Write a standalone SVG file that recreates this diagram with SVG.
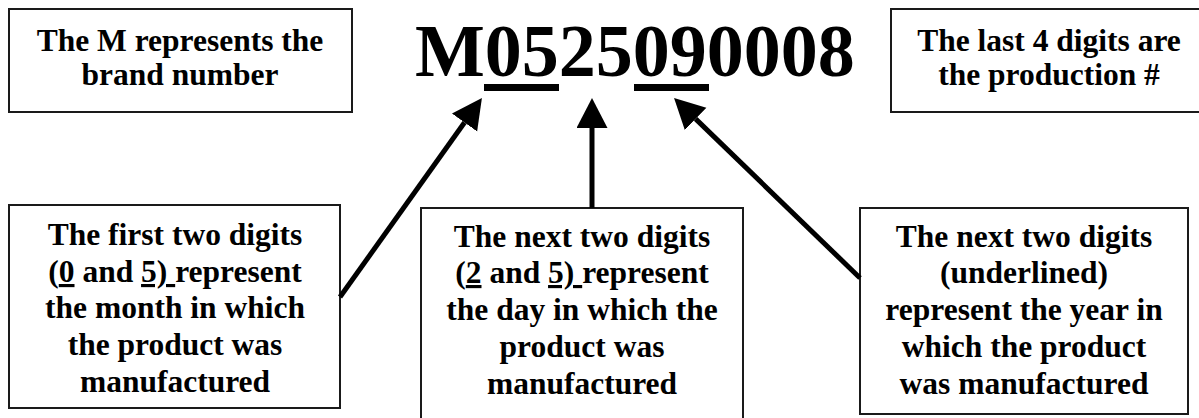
<svg xmlns="http://www.w3.org/2000/svg" width="1199" height="418" viewBox="0 0 1199 418">
<defs>
<style>
.box{fill:#fff;stroke:#1a1a1a;stroke-width:2}
.t{font-family:"Liberation Serif","Times New Roman",serif;font-weight:bold;font-size:31.5px;fill:#000;text-anchor:middle}
.big{font-family:"Liberation Serif","Times New Roman",serif;font-weight:bold;font-size:74px;fill:#000}
.u{text-decoration:underline;text-decoration-thickness:3px}
.conn{stroke:#000;stroke-width:5;fill:none}
</style>
<marker id="ah" markerUnits="userSpaceOnUse" markerWidth="32" markerHeight="32" refX="0" refY="15.5" orient="auto">
<path d="M0,0 L30,15.5 L0,31 z" fill="#000"/>
</marker>
</defs>
<rect width="1199" height="418" fill="#fff"/>
<g id="code">
<text class="big" x="415" y="76">M0525090008</text>
<rect x="484" y="84" width="75" height="7" fill="#000"/>
<rect x="634" y="84" width="75" height="7" fill="#000"/>
</g>
<g id="brand">
<rect class="box" x="9" y="9" width="343" height="103"/>
<text class="t" x="180" y="51">The M represents the</text>
<text class="t" x="180" y="85">brand number</text>
</g>
<g id="production">
<rect class="box" x="891" y="9" width="310" height="103"/>
<text class="t" x="1049" y="51">The last 4 digits are</text>
<text class="t" x="1049" y="85">the production #</text>
</g>
<g id="month">
<rect class="box" x="9" y="205" width="331" height="203"/>
<text class="t" x="175" y="245">The first two digits</text>
<text class="t" x="175" y="282">(<tspan class="u">0</tspan> and <tspan class="u">5) </tspan>represent</text>
<text class="t" x="175" y="318">the month in which</text>
<text class="t" x="175" y="355">the product was</text>
<text class="t" x="175" y="392">manufactured</text>
</g>
<g id="day">
<rect class="box" x="421" y="208" width="322" height="215"/>
<text class="t" x="582" y="247">The next two digits</text>
<text class="t" x="582" y="283">(<tspan class="u">2</tspan> and <tspan class="u">5) </tspan>represent</text>
<text class="t" x="582" y="320">the day in which the</text>
<text class="t" x="582" y="357">product was</text>
<text class="t" x="582" y="394">manufactured</text>
</g>
<g id="year">
<rect class="box" x="860" y="208" width="328" height="206"/>
<text class="t" x="1024" y="247">The next two digits</text>
<text class="t" x="1024" y="283">(underlined)</text>
<text class="t" x="1024" y="320">represent the year in</text>
<text class="t" x="1024" y="357">which the product</text>
<text class="t" x="1024" y="394">was manufactured</text>
</g>
<g id="connectors">
<line class="conn" x1="340" y1="297" x2="464.5" y2="122.5" marker-end="url(#ah)"/>
<line class="conn" x1="592" y1="208" x2="592" y2="128" marker-end="url(#ah)"/>
<line class="conn" x1="860" y1="278" x2="695.6" y2="118.9" marker-end="url(#ah)"/>
</g>
</svg>
